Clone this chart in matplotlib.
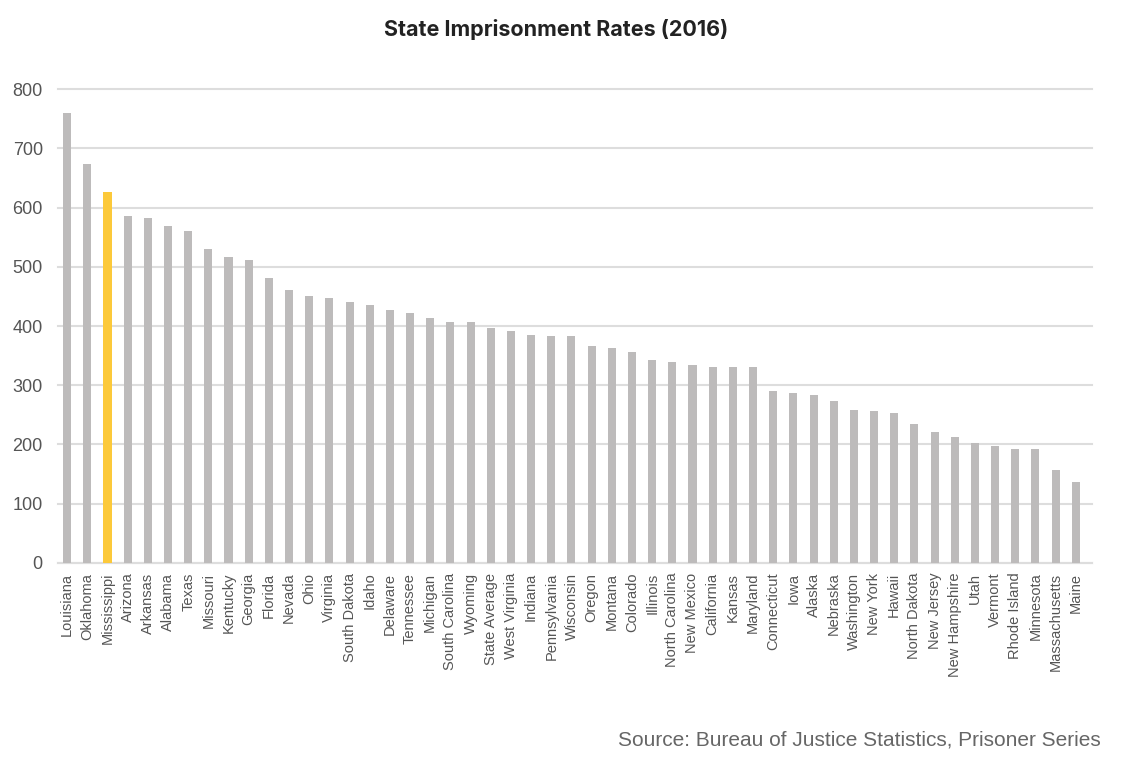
import matplotlib.pyplot as plt

plt.rcParams['font.family'] = ['Liberation Sans', 'DejaVu Sans']

# State imprisonment rates per 100k residents, 2016
states = ['Louisiana', 'Oklahoma', 'Mississippi', 'Arizona', 'Arkansas', 'Alabama',
          'Texas', 'Missouri', 'Kentucky', 'Georgia', 'Florida', 'Nevada', 'Ohio',
          'Virginia', 'South Dakota', 'Idaho', 'Delaware', 'Tennessee', 'Michigan',
          'South Carolina', 'Wyoming', 'State Average', 'West Virginia', 'Indiana',
          'Pennsylvania', 'Wisconsin', 'Oregon', 'Montana', 'Colorado', 'Illinois',
          'North Carolina', 'New Mexico', 'California', 'Kansas', 'Maryland',
          'Connecticut', 'Iowa', 'Alaska', 'Nebraska', 'Washington', 'New York',
          'Hawaii', 'North Dakota', 'New Jersey', 'New Hampshire', 'Utah', 'Vermont',
          'Rhode Island', 'Minnesota', 'Massachusetts', 'Maine']
rates = [760, 673, 626, 585, 583, 569, 561, 530, 517, 511, 481, 460, 450, 448, 440,
         435, 427, 422, 413, 407, 406, 397, 391, 384, 383, 383, 367, 363, 356, 343,
         339, 335, 331, 331, 331, 290, 287, 283, 274, 259, 256, 253, 234, 221, 212,
         202, 197, 193, 193, 157, 137]
highlight = 'Mississippi'
yticks = [0, 100, 200, 300, 400, 500, 600, 700, 800]

gray = '#bdbbbb'
yellow = '#fcc93a'
colors = [yellow if s == highlight else gray for s in states]

fig = plt.figure(figsize=(11.25, 7.79), dpi=100)
ax = fig.add_axes([0.0516, 0.2773, 0.919, 0.6084])

x = list(range(len(states)))
ax.bar(x, rates, width=0.4, color=colors, zorder=3)

ax.set_ylim(0, 800)
ax.set_xlim(-0.45, len(states) - 1 + 0.8)
ax.set_yticks(yticks)
ax.set_yticklabels([str(v) for v in yticks], fontsize=13, color='#555555')
ax.set_xticks(x)
ax.set_xticklabels(states, rotation=90, fontsize=10.5, color='#555555')
ax.tick_params(axis='both', length=0)
ax.tick_params(axis='y', pad=11)
ax.tick_params(axis='x', pad=7)

ax.grid(axis='y', color='#dddddd', linewidth=1.5, zorder=0)
for line in ax.get_ygridlines():
    line.set_clip_on(False)
for side in ['top', 'right', 'left']:
    ax.spines[side].set_visible(False)
ax.spines['bottom'].set_color('#dddddd')
ax.spines['bottom'].set_linewidth(1.5)

fig.text(0.4942, 0.962, 'State Imprisonment Rates (2016)', ha='center', va='center',
         fontsize=15.5, fontweight='bold', color='#222222',
         family=['Inter', 'Liberation Sans', 'DejaVu Sans'])
fig.text(0.978, 0.05, 'Source: Bureau of Justice Statistics, Prisoner Series',
         ha='right', va='center', fontsize=15, color='#666666')

plt.savefig('out.png', dpi=100)
